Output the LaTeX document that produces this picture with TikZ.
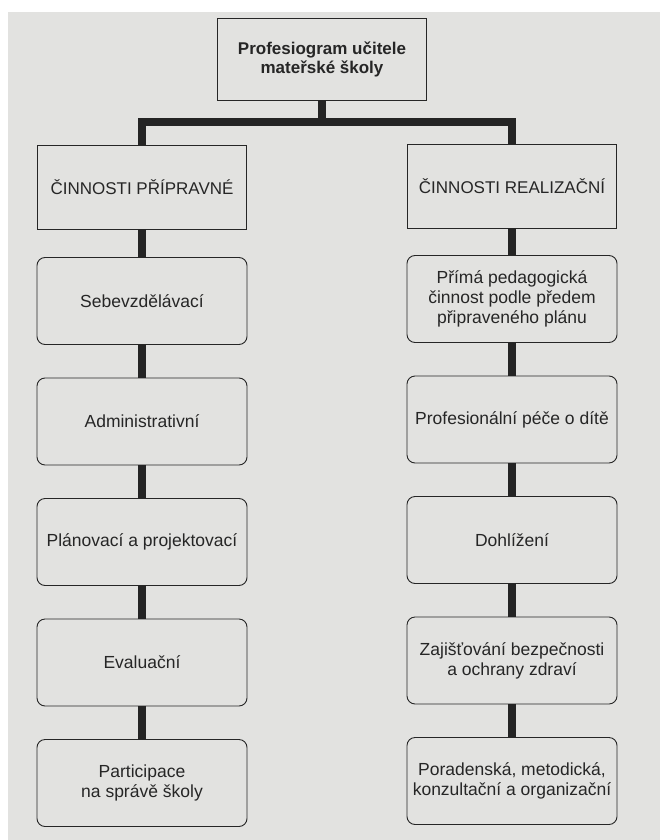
\documentclass[tikz,border=0pt]{standalone}
\usepackage{fontspec}
\setmainfont{Liberation Sans}
\usepackage{tikz}
\usepackage{xcolor}
\usetikzlibrary{positioning}

\definecolor{paper}{RGB}{226,226,224}
\definecolor{ink}{RGB}{38,38,38}

\begin{document}
\begin{tikzpicture}[x=1pt, y=-1pt,
    headbox/.style={draw=ink, line width=0.9pt, fill=paper, minimum width=209pt, minimum height=82pt, inner sep=0pt, align=center, text=ink, font=\fontsize{17}{19}\selectfont\bfseries},
    groupbox/.style={draw=ink, line width=0.9pt, fill=paper, minimum width=209pt, minimum height=84pt, inner sep=0pt, align=center, text=ink, font=\fontsize{17}{20}\selectfont},
    taskbox/.style={draw=ink, line width=0.9pt, fill=paper, rounded corners=8pt, minimum width=210pt, minimum height=87pt, inner sep=0pt, align=center, text=ink, font=\fontsize{17.5}{20}\selectfont},
    stem/.style={draw=ink!95!black, line width=8pt, line join=miter}]
            \useasboundingbox (0, 0) rectangle (660, 840);
            \fill[white] (0, 0) rectangle (660, 840);
            \fill[paper] (8, 12) rectangle (660, 840);

            \node[headbox] (top) at (322, 59) {Profesiogram učitele\\mateřské školy};

            \node[groupbox] (prep) at (142, 187) {ČINNOSTI PŘÍPRAVNÉ};
            \node[groupbox] (real) at (512, 186) {ČINNOSTI REALIZAČNÍ};

            \node[taskbox] (p1) at (142, 301) {Sebevzdělávací};
            \node[taskbox] (p2) at (142, 421.5) {Administrativní};
            \node[taskbox] (p3) at (142, 542) {Plánovací a projektovací};
            \node[taskbox] (p4) at (142, 662.5) {Evaluační};
            \node[taskbox] (p5) at (142, 783) {Participace\\na správě školy};

            \node[taskbox] (r1) at (512, 299) {Přímá pedagogická\\činnost podle předem\\připraveného plánu};
            \node[taskbox] (r2) at (512, 419.5) {Profesionální péče o dítě};
            \node[taskbox] (r3) at (512, 540) {Dohlížení};
            \node[taskbox] (r4) at (512, 660.5) {Zajišťování bezpečnosti\\a ochrany zdraví};
            \node[taskbox] (r5) at (512, 781) {Poradenská, metodická,\\konzultační a organizační};

            \coordinate (jt) at (top.south |- 0, 122);
            \coordinate (jl) at (prep.north |- 0, 122);
            \coordinate (jr) at (real.north |- 0, 122);

            \draw[stem] (top.south) -- (jt);
            \draw[stem] (prep.north) -- (jl) -- (jr) -- (real.north);

            \draw[stem] (prep) -- (p1);
            \draw[stem] (p1) -- (p2);
            \draw[stem] (p2) -- (p3);
            \draw[stem] (p3) -- (p4);
            \draw[stem] (p4) -- (p5);

            \draw[stem] (real) -- (r1);
            \draw[stem] (r1) -- (r2);
            \draw[stem] (r2) -- (r3);
            \draw[stem] (r3) -- (r4);
            \draw[stem] (r4) -- (r5);
        \end{tikzpicture}
\end{document}
